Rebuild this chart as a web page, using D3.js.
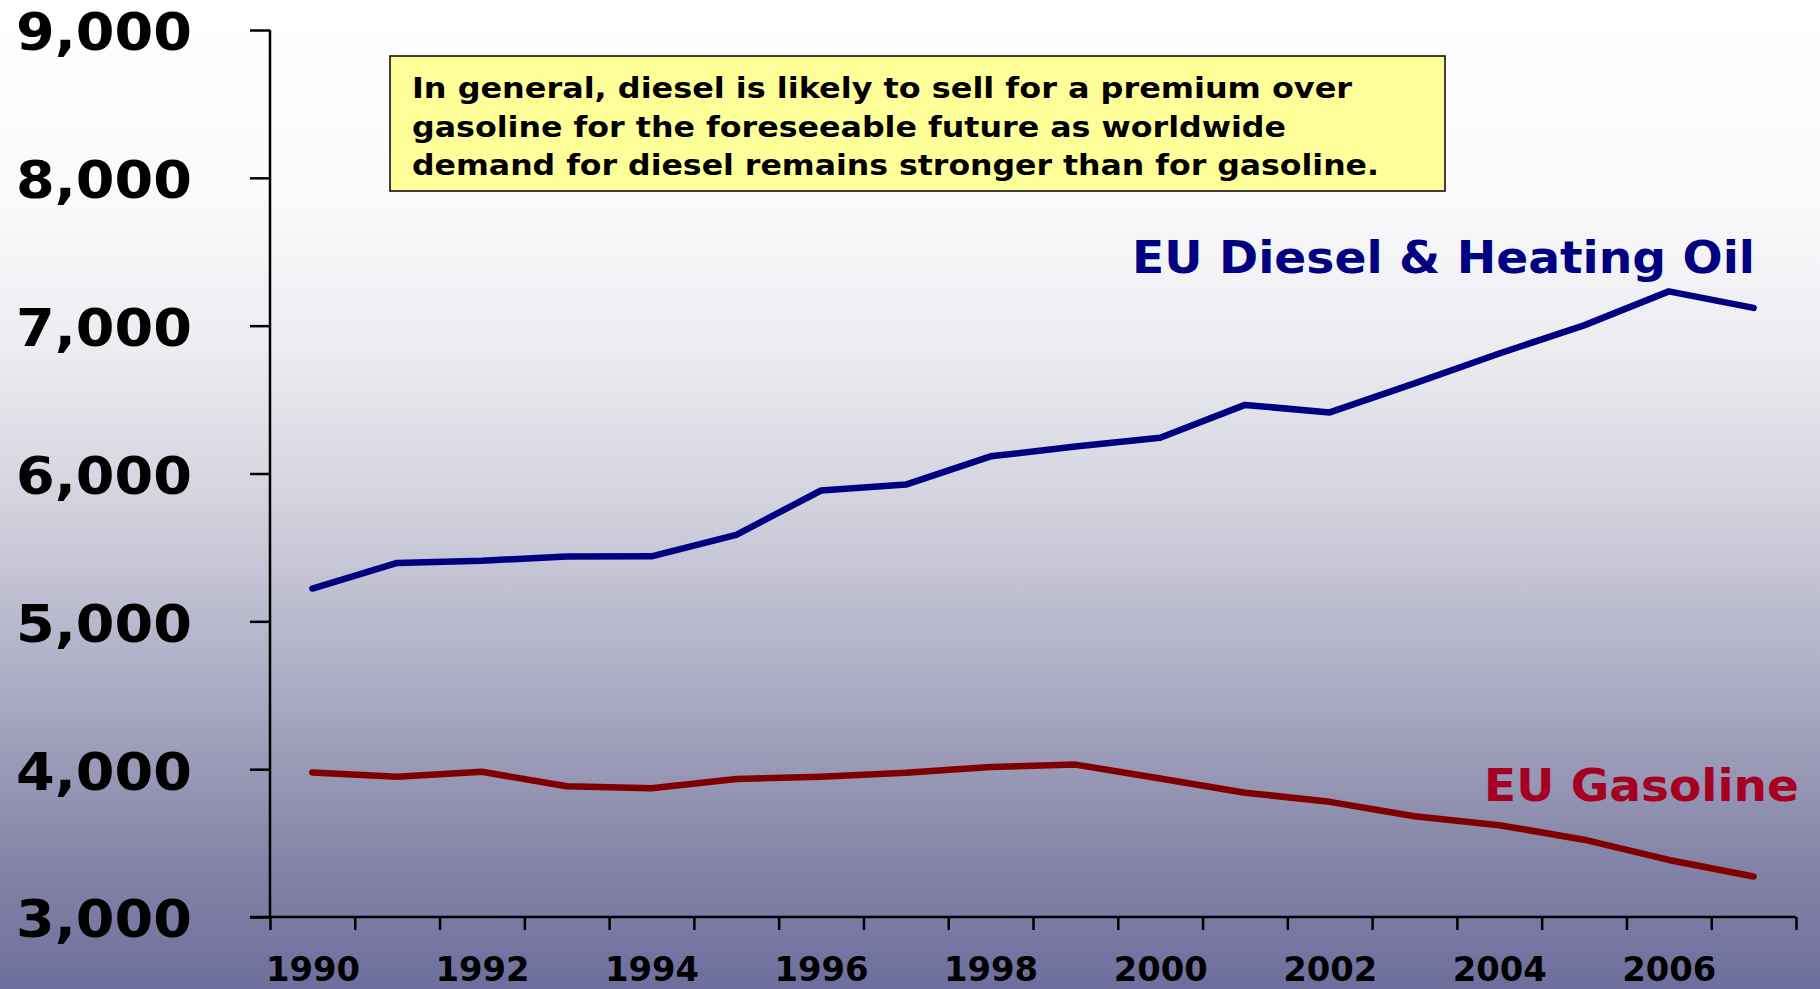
<!DOCTYPE html>
<html>
<head>
<meta charset="utf-8">
<script src="https://cdn.jsdelivr.net/npm/d3@7"></script>
<style>
  html, body { margin: 0; padding: 0; background: #fff; }
  svg { display: block; }
  text { font-family: "DejaVu Sans", Verdana, sans-serif; }
</style>
</head>
<body>
<svg id="chart" width="1820" height="989"></svg>
<script>
// ---- data ----
const years = [1990,1991,1992,1993,1994,1995,1996,1997,1998,1999,2000,2001,2002,2003,2004,2005,2006,2007];
const dieselValues = [5222,5395,5410,5438,5440,5585,5885,5925,6116,6182,6242,6464,6413,6610,6812,7002,7232,7120];
const gasolineValues = [3978,3949,3982,3884,3871,3934,3949,3975,4015,4031,3937,3841,3779,3681,3621,3523,3386,3274];
const yTicks = [3000,4000,5000,6000,7000,8000,9000];
const xLabelYears = [1990,1992,1994,1996,1998,2000,2002,2004,2006];
const seriesNames = ["EU Diesel & Heating Oil", "EU Gasoline"];
const noteLines = [
  "In general, diesel is likely to sell for a premium over",
  "gasoline for the foreseeable future as worldwide",
  "demand for diesel remains stronger than for gasoline."
];

const W = 1820, H = 989;
const svg = d3.select("#chart");

// background gradient
const defs = svg.append("defs");
const grad = defs.append("linearGradient").attr("id","bg").attr("x1",0).attr("y1",0).attr("x2",0).attr("y2",1);
[[0,"#ffffff"],[0.2,"#fafafc"],[0.35,"#ececf1"],[0.5,"#d4d4df"],[0.71,"#a8a8c2"],[0.86,"#8686a9"],[1,"#6e6e9d"]]
  .forEach(s => grad.append("stop").attr("offset", s[0]).attr("stop-color", s[1]));
svg.append("rect").attr("width",W).attr("height",H).attr("fill","url(#bg)");

// scales
const x = d3.scaleLinear().domain([1989.5, 2007.5]).range([270, 1796]);
const y = d3.scaleLinear().domain([3000, 9000]).range([917, 30]);

// y axis
const yAxis = svg.append("g").attr("transform","translate(270,0)")
  .call(d3.axisLeft(y).tickValues(yTicks).tickSize(20).tickPadding(58).tickFormat(d3.format(",")));
yAxis.select(".domain").attr("stroke","#000").attr("stroke-width",2.5).attr("d","M0,30V917");
yAxis.selectAll(".tick line").attr("stroke","#000").attr("stroke-width",2.5);
yAxis.selectAll(".tick text")
  .attr("fill","#000").attr("font-size",51).attr("font-weight","bold")
  .attr("font-family","'DejaVu Sans', Verdana, sans-serif")
  .attr("dy","0.39em")
  .attr("textLength",176).attr("lengthAdjust","spacingAndGlyphs");

// x axis ticks at category boundaries
const boundaries = d3.range(1989.5, 2008, 1);
const xAxis = svg.append("g").attr("transform","translate(0,917)")
  .call(d3.axisBottom(x).tickValues(boundaries).tickSize(13).tickFormat(""));
xAxis.select(".domain").attr("stroke","#000").attr("stroke-width",2.5).attr("d","M250,0H1796");
xAxis.selectAll(".tick line").attr("stroke","#000").attr("stroke-width",2.5);

// x labels
const xLab = svg.append("g").attr("transform","translate(0,917)")
  .call(d3.axisBottom(x).tickValues(xLabelYears).tickSize(0).tickPadding(41).tickFormat(d3.format("d")));
xLab.select(".domain").remove();
xLab.selectAll(".tick text")
  .attr("fill","#000").attr("font-size",33).attr("font-weight","bold")
  .attr("font-family","'DejaVu Sans', Verdana, sans-serif")
  .attr("textLength",94).attr("lengthAdjust","spacingAndGlyphs");

// lines
const line = d3.line().x((d,i) => x(years[i])).y(d => y(d));
svg.append("path").datum(dieselValues).attr("d", line)
  .attr("fill","none").attr("stroke","#000080").attr("stroke-width",6.5)
  .attr("stroke-linecap","round").attr("stroke-linejoin","round");
svg.append("path").datum(gasolineValues).attr("d", line)
  .attr("fill","none").attr("stroke","#800000").attr("stroke-width",6.5)
  .attr("stroke-linecap","round").attr("stroke-linejoin","round");

// series labels
svg.append("text").text(seriesNames[0])
  .attr("x",1132).attr("y",273).attr("fill","#000080")
  .attr("font-size",45).attr("font-weight","bold")
  .attr("textLength",623).attr("lengthAdjust","spacingAndGlyphs");
svg.append("text").text(seriesNames[1])
  .attr("x",1484).attr("y",801).attr("fill","#a50021")
  .attr("font-size",45).attr("font-weight","bold")
  .attr("textLength",315).attr("lengthAdjust","spacingAndGlyphs");

// note box
svg.append("rect").attr("x",390).attr("y",56).attr("width",1055).attr("height",135)
  .attr("fill","#ffff99").attr("stroke","#000").attr("stroke-width",1.5);
const noteWidths = [940, 874, 967];
const noteBase = [98, 137, 175];
noteLines.forEach((t,i) => {
  svg.append("text").text(t)
    .attr("x",412).attr("y",noteBase[i]).attr("fill","#000")
    .attr("font-size",29).attr("font-weight","bold")
    .attr("textLength",noteWidths[i]).attr("lengthAdjust","spacingAndGlyphs");
});
</script>
</body>
</html>
